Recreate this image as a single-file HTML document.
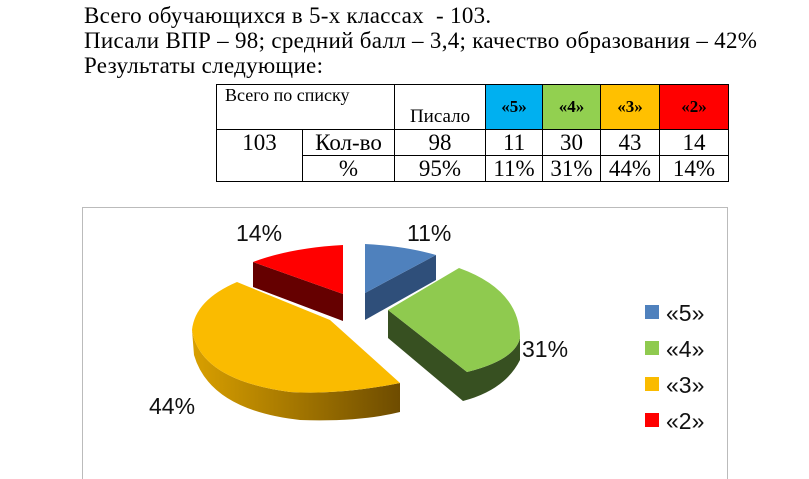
<html><head><style>
body{margin:0;width:809px;height:479px;background:#fff;position:relative;overflow:hidden;font-family:"Liberation Serif",serif;}
.t{position:absolute;left:84px;font-size:23px;letter-spacing:0.3px;color:#000;white-space:nowrap}
table{position:absolute;left:216px;top:84px;border-collapse:collapse;font-size:23px;table-layout:fixed;width:512px}
td{border:1px solid #000;padding:0;text-align:center;height:26px;line-height:24px;overflow:hidden;white-space:nowrap}
</style></head><body>
<div class="t" style="top:3px">Всего обучающихся в 5-х классах&nbsp; - 103.</div>
<div class="t" style="top:28px">Писали ВПР – 98; средний балл – 3,4; качество образования – 42%</div>
<div class="t" style="top:53px">Результаты следующие:</div>
<table>
<colgroup><col style="width:86px"><col style="width:92px"><col style="width:91px"><col style="width:57px"><col style="width:58px"><col style="width:59px"><col style="width:69px"></colgroup>
<tr style="height:45px"><td colspan="2" style="vertical-align:top;text-align:left;font-size:18px;padding-left:8px;line-height:20px">Всего по списку</td><td style="vertical-align:bottom;font-size:19px">Писало</td><td style="background:#00b0f0;font-weight:bold;font-size:17px">«5»</td><td style="background:#92d050;font-weight:bold;font-size:17px">«4»</td><td style="background:#ffc000;font-weight:bold;font-size:17px">«3»</td><td style="background:#ff0000;font-weight:bold;font-size:17px">«2»</td></tr>
<tr><td style="border-bottom:none">103</td><td>Кол-во</td><td>98</td><td>11</td><td>30</td><td>43</td><td>14</td></tr>
<tr><td style="border-top:none"></td><td>%</td><td>95%</td><td>11%</td><td>31%</td><td>44%</td><td>14%</td></tr>
</table>
<svg style="position:absolute;left:0;top:0" width="809" height="479">
<defs><linearGradient id="yg" x1="0" x2="1"><stop offset="0" stop-color="#d9a000"/><stop offset="1" stop-color="#6e4c00"/></linearGradient></defs>
<rect x="82.5" y="207.5" width="645" height="280" fill="#fff" stroke="#bbb"/>
<path d="M436,255 L436,280 L365,320 L365,293 Z" fill="#2f4f7a"/>
<path d="M365,244 Q405,246 436,255 L365,293 Z" fill="#4f81bd"/>
<path d="M253,262 L253,287 L343,321 L343,294 Z" fill="#650000"/>
<path d="M253,262 Q290,248 343,245 L343,294 Z" fill="#ff0000"/>
<path d="M388,310 L388,338 L463,401 Q505,390 520,360 L520,338 Q515,360 467,372 Z" fill="#375021"/>
<path d="M388,310 L459,268 Q520,290 520,338 Q515,360 467,372 Z" fill="#8fca4f"/>
<path d="M192,330 L194,355 Q210,410 300,420 Q360,422 400,412 L400,383 Q340,395 290,392 Q200,380 192,330 Z" fill="url(#yg)"/>
<path d="M237,282 L330,320 L400,383 Q340,395 290,392 Q200,380 192,330 Q195,300 237,282 Z" fill="#fabb00"/>
<g font-family="'Liberation Sans',sans-serif" font-size="23" fill="#111">
<text x="236" y="241">14%</text><text x="407" y="241">11%</text>
<text x="522" y="357">31%</text><text x="149" y="414">44%</text>
<rect x="645" y="305" width="14" height="14" fill="#4f81bd"/><text x="666" y="321">«5»</text>
<rect x="645" y="341" width="14" height="14" fill="#8fca4f"/><text x="666" y="357">«4»</text>
<rect x="645" y="377" width="14" height="14" fill="#fabb00"/><text x="666" y="393">«3»</text>
<rect x="645" y="413" width="14" height="14" fill="#ff0000"/><text x="666" y="429">«2»</text>
</g>
</svg>
</body></html>
